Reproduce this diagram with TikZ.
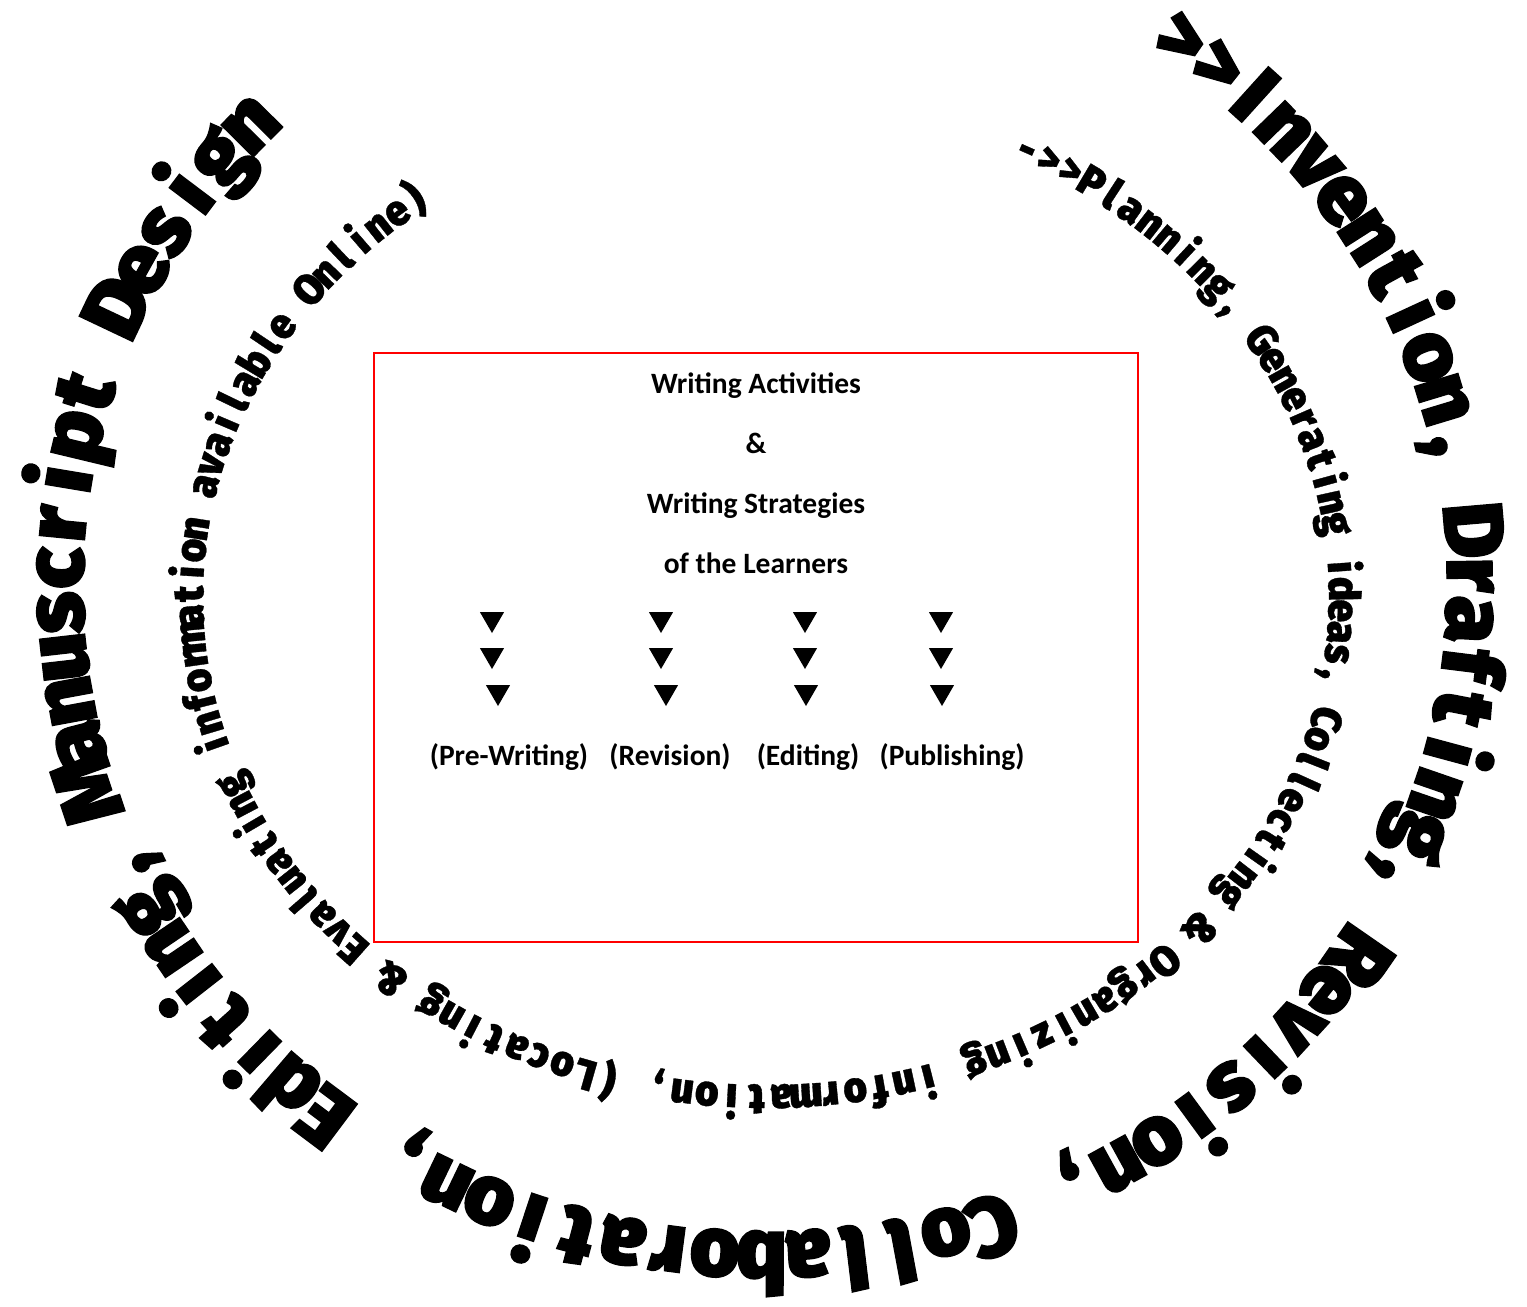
\documentclass[tikz,border=0pt]{standalone}
\usepackage{fontspec}
\usetikzlibrary{shapes.geometric}
\newfontfamily\heavyfont{Fira Sans Black}[FakeBold=1.5]
\newfontfamily\innerheavy{Fira Sans Black}[FakeBold=0.8]
\newfontfamily\boxfont{Carlito}
\newsavebox\chbox
\newlength\chw
\def\sp{\ }
\def\ringfont{}
\def\ringxs{1}
\tikzset{
  boxtext/.style={font=\boxfont\bfseries\fontsize{29.5}{29.5}\selectfont, anchor=base, inner sep=0pt},
  tri/.style={fill=black, regular polygon, regular polygon sides=3, shape border rotate=180, inner sep=0pt, minimum size=28pt},
  redbox/.style={draw=red, line width=2.5pt, inner sep=0pt},
  ringchar/.style={anchor=base, inner sep=0pt, outer sep=0pt, font=\ringfont},
}
% #1 cx, #2 cy, #3 a, #4 b, #5 start angle, #6 extra gap (deg), #7 draw flag, #8 list, #9 name prefix
\newcommand\ringpass[9]{%
  \xdef\curang{#5}%
  \pgfmathsetmacro\rr{#4/#3}%
  \foreach \ch [count=\ci] in {#8} {%
    \sbox\chbox{\ringfont\ch}%
    \chw=\wd\chbox
    \pgfmathsetmacro\hw{0.5*\ringxs*\chw}%
    \pgfmathsetmacro\sA{#3*sqrt((sin(\curang))^2+(\rr*cos(\curang))^2)}%
    \pgfmathsetmacro\mang{\curang-\hw/\sA*57.29578}%
    \pgfmathsetmacro\sB{#3*sqrt((sin(\mang))^2+(\rr*cos(\mang))^2)}%
    \pgfmathsetmacro\nang{\curang-2*\hw/\sB*57.29578-#6}%
    \ifnum#7=1
      \pgfmathsetmacro\px{#1+#3*cos(\mang)}%
      \pgfmathsetmacro\py{#2+#4*sin(\mang)}%
      \pgfmathsetmacro\rot{atan2(-#4*cos(\mang),#3*sin(\mang))}%
      \node[ringchar, rotate=\rot, xscale=\ringxs] (#9-\ci) at (\px,\py) {\ch};
    \fi
    \xdef\curang{\nang}%
    \xdef\ringn{\ci}%
  }%
}
% fit text between start and end angle
\newcommand\ringtext[8]{% cx cy a b start end list name
  \ringpass{#1}{#2}{#3}{#4}{#5}{0}{0}{#7}{#8}%
  \pgfmathsetmacro\gapang{(\curang-(#6))/\ringn}%
  \ringpass{#1}{#2}{#3}{#4}{#5}{\gapang}{1}{#7}{#8}%
}
\begin{document}
\begin{tikzpicture}[x=1pt,y=1pt]
\useasboundingbox (0,0) rectangle (1527,-1307);
% outer ring text
\def\ringfont{\heavyfont\fontsize{85}{85}\selectfont}
\def\ringxs{1.0}
\ringtext{765}{-585}{682}{647}{54}{-227}{>,>,I,n,v,e,n,t,i,o,n,{,},\sp,D,r,a,f,t,i,n,g,{,},\sp,R,e,v,i,s,i,o,n,{,},\sp,C,o,l,l,a,b,o,r,a,t,i,o,n,{,},\sp,E,d,i,t,i,n,g,{,},\sp,M,a,n,u,s,c,r,i,p,t,\sp,D,e,s,i,g,n}{outer}
% inner ring text
\def\ringfont{\innerheavy\fontsize{43}{43}\selectfont}
\def\ringxs{0.93}
\ringtext{766}{-597}{563}{488}{63}{-235}{-,>,>,P,l,a,n,n,i,n,g,{,},\sp,G,e,n,e,r,a,t,i,n,g,\sp,i,d,e,a,s,{,},\sp,C,o,l,l,e,c,t,i,n,g,\sp,\&,\sp,O,r,g,a,n,i,z,i,n,g,\sp,i,n,f,o,r,m,a,t,i,o,n,{,},\sp,{(},L,o,c,a,t,i,n,g,\sp,\&,\sp,E,v,a,l,u,a,t,i,n,g,\sp,i,n,f,o,r,m,a,t,i,o,n,\sp,a,v,a,i,l,a,b,l,e,\sp,O,n,l,i,n,e,{)}}{inner}
% box
\node[redbox, minimum width=764pt, minimum height=589pt] (box) at (756,-647.5) {};
\node[boxtext] (l1) at (756,-393) {Writing Activities};
\node[boxtext] (l2) at (756,-453) {\&};
\node[boxtext] (l3) at (756,-513) {Writing Strategies};
\node[boxtext] (l4) at (756,-573) {of the Learners};
% triangles
\node[tri] (a1) at (492,-619) {};
\node[tri] (a2) at (492,-655) {};
\node[tri] (a3) at (498,-692) {};
\node[tri] (b1) at (661,-619) {};
\node[tri] (b2) at (661,-655) {};
\node[tri] (b3) at (666,-692) {};
\node[tri] (c1) at (805,-619) {};
\node[tri] (c2) at (805,-655) {};
\node[tri] (c3) at (806,-692) {};
\node[tri] (d1) at (941,-619) {};
\node[tri] (d2) at (941,-655) {};
\node[tri] (d3) at (942,-692) {};
% labels
\node[boxtext] (p1) at (509,-765) {(Pre-Writing)};
\node[boxtext] (p2) at (670,-765) {(Revision)};
\node[boxtext] (p3) at (808,-765) {(Editing)};
\node[boxtext] (p4) at (952,-765) {(Publishing)};
\end{tikzpicture}
\end{document}
